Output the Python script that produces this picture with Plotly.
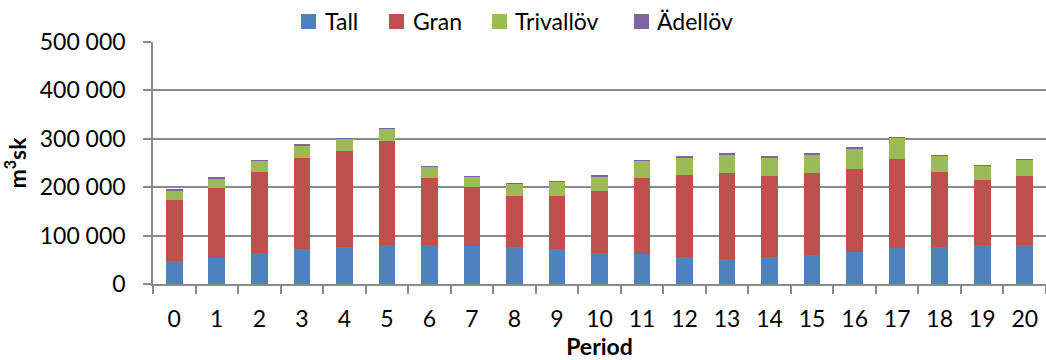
import plotly.graph_objects as go

# Harvest volume per period and tree species (m³sk)
periods = [str(i) for i in range(21)]
tall = [47000, 53800, 63500, 73000, 75900, 81300, 80000, 78600, 77200, 71800, 64800,
        62700, 55900, 52300, 55200, 60000, 65500, 73800, 76600, 80000, 80700]
gran = [127400, 144200, 168900, 188300, 199900, 213900, 140000, 121400, 105500, 110900, 127600,
        156600, 170200, 178000, 168900, 169000, 173100, 185500, 155800, 135800, 143400]
trivallov = [19500, 20700, 22100, 25700, 24200, 25500, 22000, 21400, 24800, 28300, 30400,
             35200, 35200, 38000, 38000, 38600, 40700, 42800, 33100, 29000, 33100]
adellov = [500, 700, 800, 1000, 1000, 1000, 1500, 1500, 1000, 1000, 1500,
           1500, 1500, 2000, 2500, 2000, 2500, 1500, 1000, 1000, 1000]

series_names = ["Tall", "Gran", "Trivallöv", "Ädellöv"]
series_values = [tall, gran, trivallov, adellov]
series_colors = ["#4F81BD", "#C0504D", "#9BBB59", "#8064A2"]

FONT = "Lato"
GRID = "#8a8a8a"
W, H = 1046, 360
M_L, M_R, M_T, M_B = 153, 0, 42, 76
PLOT_W = W - M_L - M_R
PLOT_H = H - M_T - M_B

fig = go.Figure()
for name, vals, color in zip(series_names, series_values, series_colors):
    fig.add_trace(go.Bar(name=name, x=periods, y=vals, marker_color=color,
                         marker_line_width=0, showlegend=False))


def px_to_paper_x(px):
    return (px - M_L) / PLOT_W


def px_to_paper_y(py):
    return (H - M_B - py) / PLOT_H


# Legend row above the plot: coloured square followed by the series name
legend_square_x = [301, 389, 492, 634]
legend_text_x = [323, 411, 513, 655]
sq_top, sq_bot, text_mid = 14, 29, 21
shapes = []
annotations = []
for name, color, sx, tx in zip(series_names, series_colors, legend_square_x, legend_text_x):
    shapes.append(dict(type="rect", xref="paper", yref="paper",
                       x0=px_to_paper_x(sx), x1=px_to_paper_x(sx + 15),
                       y0=px_to_paper_y(sq_bot), y1=px_to_paper_y(sq_top),
                       fillcolor=color, line_width=0, layer="above"))
    annotations.append(dict(text=name, xref="paper", yref="paper",
                            x=px_to_paper_x(tx), y=px_to_paper_y(text_mid),
                            xanchor="left", yanchor="middle", showarrow=False,
                            font=dict(family=FONT, size=23, color="#000000")))

fig.update_layout(
    barmode="stack",
    bargap=0.61,
    width=W, height=H,
    margin=dict(l=M_L, r=M_R, t=M_T, b=M_B, autoexpand=False),
    paper_bgcolor="white", plot_bgcolor="white",
    font=dict(family=FONT, size=23, color="#000000"),
    separators=", ",
    showlegend=False,
    shapes=shapes,
    annotations=annotations,
)

fig.update_xaxes(
    type="category",
    showline=True, linecolor=GRID, linewidth=1.5,
    ticks="outside", tickson="boundaries", ticklen=8, tickcolor=GRID, tickwidth=1.5,
    ticklabelstandoff=14,
    showgrid=False,
    title=dict(text="<b>Period</b>", font=dict(size=23), standoff=11),
)

fig.update_yaxes(
    range=[0, 500000], dtick=100000, tickformat=",d",
    showline=True, linecolor=GRID, linewidth=1.5,
    ticks="outside", ticklen=8, tickcolor=GRID, tickwidth=1.5,
    ticklabelstandoff=13,
    showgrid=True, gridcolor=GRID, gridwidth=1.5,
    zeroline=False,
    title=dict(text="<b>m<sup>3</sup>sk</b>", font=dict(size=23), standoff=12),
)

fig.write_html("out.html")
